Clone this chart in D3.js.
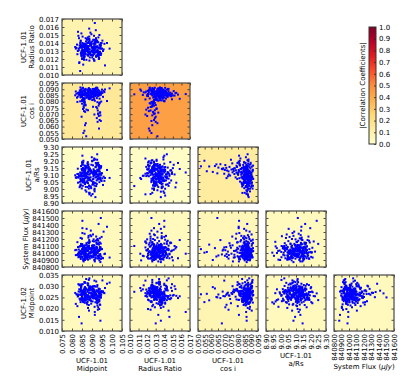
<!DOCTYPE html>
<html>
<head>
<meta charset="utf-8">
<script src="https://cdn.jsdelivr.net/npm/d3@7"></script>
<style>
body { margin: 0; background: #fff; }
text { font-family: "DejaVu Sans", sans-serif; font-size: 7px; fill: #000; }
</style>
</head>
<body>
<div id="chart"></div>
<script>
// MCMC samples (first 205 = main cluster, last 45 = low cos i tail)
var midpoint1 = [
0.0852,0.0918,0.0883,0.0907,0.0845,0.0894,0.0858,0.0912,0.0876,0.0931,
0.0866,0.0889,0.0849,0.0920,0.0881,0.0935,0.0843,0.0898,0.0870,0.0909,
0.0853,0.0886,0.0834,0.0913,0.0860,0.0941,0.0879,0.0905,0.0864,0.0892,
0.0851,0.0898,0.0874,0.0917,0.0829,0.0887,0.0862,0.0910,0.0844,0.0946,
0.0885,0.0914,0.0873,0.0901,0.0841,0.0921,0.0877,0.0937,0.0848,0.0891,
0.0867,0.0926,0.0836,0.0906,0.0880,0.0952,0.0863,0.0896,0.0846,0.0899,
0.0858,0.0932,0.0822,0.0913,0.0884,0.0923,0.0850,0.0958,0.0888,0.0908,
0.0842,0.0919,0.0865,0.0938,0.0878,0.0904,0.0876,0.0893,0.0838,0.0914,
0.0860,0.0944,0.0882,0.0910,0.0832,0.0928,0.0856,0.0896,0.0871,0.0920,
0.0844,0.0933,0.0887,0.0907,0.0851,0.0965,0.0875,0.0917,0.0827,0.0902,
0.0866,0.0890,0.0847,0.0912,0.0855,0.0948,0.0881,0.0921,0.0868,0.0905,
0.0852,0.0936,0.0878,0.0895,0.0845,0.0926,0.0816,0.0909,0.0886,0.0942,
0.0854,0.0918,0.0837,0.0900,0.0864,0.0934,0.0879,0.0913,0.0872,0.0975,
0.0846,0.0923,0.0889,0.0906,0.0833,0.0939,0.0863,0.0897,0.0849,0.0884,
0.0857,0.0929,0.0843,0.0911,0.0880,0.0950,0.0853,0.0892,0.0825,0.0903,
0.0867,0.0931,0.0885,0.0914,0.0860,0.0945,0.0839,0.0908,0.0877,0.0924,
0.0874,0.0988,0.0851,0.0917,0.0844,0.0894,0.0862,0.0901,0.0830,0.0927,
0.0856,0.0912,0.0869,0.0940,0.0883,0.0906,0.0859,0.0922,0.0835,0.0955,
0.0865,0.0891,0.0852,0.0932,0.0841,0.0898,0.0877,0.0920,0.0886,0.0943,
0.0819,0.0910,0.0863,0.0926,0.0850,0.0962,0.0882,0.0913,0.0871,0.0904,
0.0854,0.0937,0.0888,0.0918,0.0885,
0.0858,0.0931,0.0863,0.0938,0.0855,0.0927,0.0866,0.0935,0.0861,0.0942,
0.0852,0.0929,0.0869,0.0936,0.0859,0.0924,0.0864,0.0940,0.0857,0.0933,
0.0872,0.0946,0.0848,0.0921,0.0865,0.0937,0.0860,0.0930,0.0854,0.0944,
0.0867,0.0926,0.0862,0.0939,0.0880,0.0934,0.0856,0.0905,0.0871,0.0941,
0.0850,0.0928,0.0868,0.0912,0.0863];

var radiusRatio = [
0.0136,0.0129,0.0141,0.0133,0.0127,0.0138,0.0131,0.0144,0.0135,0.0124,
0.0139,0.0132,0.0128,0.0146,0.0134,0.0121,0.0137,0.0130,0.0142,0.0126,
0.0135,0.0148,0.0131,0.0139,0.0123,0.0134,0.0140,0.0128,0.0136,0.0153,
0.0132,0.0125,0.0137,0.0143,0.0130,0.0118,0.0135,0.0139,0.0127,0.0133,
0.0145,0.0131,0.0136,0.0122,0.0140,0.0129,0.0134,0.0150,0.0126,0.0138,
0.0132,0.0141,0.0115,0.0135,0.0128,0.0143,0.0133,0.0137,0.0124,0.0139,
0.0130,0.0147,0.0134,0.0127,0.0136,0.0142,0.0120,0.0132,0.0140,0.0129,
0.0135,0.0156,0.0131,0.0138,0.0125,0.0134,0.0144,0.0128,0.0137,0.0133,
0.0119,0.0140,0.0132,0.0136,0.0149,0.0127,0.0135,0.0141,0.0130,0.0123,
0.0138,0.0134,0.0145,0.0129,0.0136,0.0112,0.0133,0.0139,0.0126,0.0142,
0.0131,0.0137,0.0152,0.0128,0.0135,0.0140,0.0124,0.0134,0.0146,0.0130,
0.0137,0.0121,0.0133,0.0139,0.0127,0.0143,0.0135,0.0131,0.0158,0.0136,
0.0129,0.0141,0.0116,0.0134,0.0138,0.0125,0.0147,0.0132,0.0136,0.0140,
0.0128,0.0135,0.0122,0.0144,0.0133,0.0137,0.0130,0.0151,0.0134,0.0126,
0.0139,0.0131,0.0142,0.0118,0.0136,0.0133,0.0148,0.0129,0.0138,0.0124,
0.0135,0.0141,0.0132,0.0165,0.0127,0.0137,0.0134,0.0120,0.0140,0.0130,
0.0145,0.0133,0.0128,0.0136,0.0143,0.0125,0.0139,0.0131,0.0154,0.0135,
0.0113,0.0134,0.0138,0.0129,0.0142,0.0132,0.0136,0.0123,0.0146,0.0130,
0.0137,0.0127,0.0140,0.0134,0.0105,0.0135,0.0131,0.0144,0.0126,0.0138,
0.0133,0.0149,0.0128,0.0136,0.0121,0.0139,0.0132,0.0141,0.0134,0.0130,
0.0137,0.0125,0.0143,0.0135,0.0129,
0.0126,0.0129,0.0123,0.0128,0.0131,0.0125,0.0127,0.0122,0.0130,0.0126,
0.0128,0.0124,0.0132,0.0127,0.0121,0.0129,0.0126,0.0133,0.0125,0.0128,
0.0119,0.0127,0.0130,0.0124,0.0126,0.0129,0.0122,0.0128,0.0135,0.0125,
0.0127,0.0131,0.0123,0.0126,0.0129,0.0120,0.0128,0.0125,0.0132,0.0127,
0.0124,0.0130,0.0126,0.0118,0.0128];

var cosI = [
0.0868,0.0845,0.0879,0.0852,0.0873,0.0831,0.0886,0.0860,0.0848,0.0895,
0.0866,0.0820,0.0877,0.0855,0.0899,0.0862,0.0838,0.0882,0.0851,0.0871,
0.0905,0.0843,0.0864,0.0890,0.0826,0.0875,0.0857,0.0902,0.0849,0.0869,
0.0812,0.0881,0.0858,0.0896,0.0841,0.0874,0.0853,0.0885,0.0834,0.0867,
0.0903,0.0861,0.0846,0.0878,0.0803,0.0866,0.0893,0.0850,0.0876,0.0828,
0.0863,0.0911,0.0854,0.0883,0.0839,0.0870,0.0888,0.0847,0.0897,0.0859,
0.0815,0.0872,0.0864,0.0904,0.0842,0.0880,0.0852,0.0887,0.0833,0.0868,
0.0914,0.0857,0.0876,0.0824,0.0891,0.0862,0.0848,0.0900,0.0871,0.0807,
0.0882,0.0855,0.0894,0.0840,0.0865,0.0886,0.0821,0.0875,0.0860,0.0908,
0.0850,0.0869,0.0884,0.0836,0.0863,0.0898,0.0844,0.0879,0.0798,0.0867,
0.0856,0.0892,0.0849,0.0874,0.0830,0.0881,0.0862,0.0906,0.0853,0.0866,
0.0810,0.0887,0.0858,0.0841,0.0896,0.0872,0.0851,0.0878,0.0823,0.0865,
0.0912,0.0854,0.0875,0.0835,0.0889,0.0861,0.0847,0.0901,0.0868,0.0805,
0.0883,0.0857,0.0893,0.0838,0.0870,0.0863,0.0827,0.0885,0.0852,0.0909,
0.0866,0.0844,0.0877,0.0818,0.0873,0.0897,0.0855,0.0874,0.0832,0.0864,
0.0903,0.0850,0.0884,0.0861,0.0794,0.0869,0.0891,0.0846,0.0876,0.0829,
0.0867,0.0907,0.0856,0.0880,0.0842,0.0862,0.0895,0.0813,0.0871,0.0858,
0.0888,0.0848,0.0899,0.0867,0.0825,0.0878,0.0853,0.0913,0.0864,0.0839,
0.0874,0.0892,0.0808,0.0868,0.0859,0.0885,0.0834,0.0901,0.0851,0.0870,
0.0882,0.0819,0.0863,0.0906,0.0845,0.0877,0.0855,0.0890,0.0831,0.0866,
0.0910,0.0860,0.0849,0.0886,0.0837,
0.0762,0.0705,0.0788,0.0653,0.0741,0.0796,0.0718,0.0584,0.0773,0.0690,
0.0805,0.0729,0.0627,0.0782,0.0751,0.0668,0.0797,0.0712,0.0548,0.0768,
0.0736,0.0801,0.0679,0.0757,0.0611,0.0789,0.0724,0.0702,0.0812,0.0645,
0.0776,0.0747,0.0566,0.0793,0.0731,0.0685,0.0808,0.0759,0.0522,0.0714,
0.0784,0.0638,0.0770,0.0697,0.0815];

var aRs = [
9.113,9.042,9.127,9.071,9.164,9.018,9.093,9.121,9.054,9.187,
9.078,9.142,9.004,9.105,9.062,9.171,9.033,9.116,9.085,9.206,
9.047,9.134,9.091,8.983,9.124,9.069,9.152,9.038,9.101,9.012,
9.178,9.058,9.109,9.082,9.145,8.962,9.096,9.131,9.027,9.163,
9.074,9.103,9.051,9.198,9.118,9.021,9.087,9.149,9.064,9.112,
8.991,9.138,9.094,9.043,9.172,9.076,9.123,9.006,9.099,9.227,
9.053,9.132,9.081,9.024,9.158,9.061,9.114,9.088,8.972,9.141,
9.072,9.186,9.035,9.102,9.119,9.049,9.153,9.084,9.013,9.129,
9.092,9.063,9.176,9.041,9.108,9.073,9.144,8.953,9.097,9.126,
9.059,9.161,9.022,9.089,9.133,9.079,9.052,9.211,9.107,9.031,
9.139,9.068,9.104,8.994,9.151,9.057,9.122,9.086,9.044,9.169,
9.077,9.111,9.014,9.128,9.065,9.248,9.098,9.048,9.143,9.083,
9.023,9.157,9.095,9.117,9.039,9.074,9.192,9.101,8.981,9.136,
9.056,9.109,9.147,9.034,9.081,9.125,9.046,9.173,9.093,9.003,
9.137,9.067,9.105,9.218,9.042,9.113,9.061,9.131,9.084,8.964,
9.159,9.091,9.025,9.118,9.072,9.154,9.051,9.097,9.181,9.036,
9.112,9.079,9.143,8.942,9.088,9.134,9.063,9.201,9.045,9.102,
9.071,9.122,9.015,9.148,9.083,9.107,9.053,9.167,9.094,9.029,
9.141,9.062,9.238,9.099,9.021,9.127,9.074,9.115,8.973,9.162,
9.082,9.119,9.043,9.089,9.189,9.058,9.138,9.002,9.111,9.069,
9.132,9.049,9.103,9.156,9.078,
9.142,9.171,9.118,9.153,9.096,9.186,9.132,9.161,9.107,9.148,
9.195,9.126,9.164,9.083,9.139,9.177,9.114,9.151,9.202,9.129,
9.158,9.101,9.144,9.183,9.122,9.166,9.091,9.136,9.173,9.112,
9.149,9.209,9.127,9.157,9.104,9.141,9.188,9.119,9.162,9.078,
9.134,9.176,9.146,9.109,9.168];

var systemFlux = [
841020,840965,841085,840940,841130,841005,840990,841060,840915,841175,
841040,840955,841100,840980,841035,840925,841215,841070,840995,841010,
840945,841145,841050,840905,841090,840970,841025,841265,840960,841065,
841000,840935,841115,841045,840985,841160,840920,841075,841030,840950,
841105,840975,841345,841015,840940,841080,841055,840895,841125,840990,
841035,841190,840960,841010,841095,840930,841060,841240,840980,841020,
840910,841140,841045,840965,841085,841005,840945,841305,841070,840995,
841030,840925,841110,841050,840975,841170,840955,841015,841090,840880,
841040,841135,840985,841065,840940,841200,841000,840960,841080,841025,
840915,841415,841055,840970,841120,840990,841035,840935,841155,841075,
841010,840950,841100,840900,841045,841230,840980,841060,840925,841020,
841285,840965,841085,841005,840945,841130,841040,840990,841185,840870,
841070,841015,840955,841105,841050,840930,841150,840975,841030,841375,
840995,841090,840920,841060,841010,841210,840960,841045,841115,840940,
841080,841000,840985,841165,840905,841055,841025,841255,840970,841095,
840950,841035,841140,840990,841075,840915,841015,841195,840965,841065,
841040,840935,841125,841005,840980,841320,841050,840945,841085,841020,
840895,841110,840975,841060,841245,840955,841030,841145,840990,840925,
841070,841010,841460,840960,841100,841045,840940,841175,841000,841080,
840970,841035,840910,841130,841055,840985,841220,841015,840950,841090,
841025,840930,841160,840995,841065,840880,841040,841275,840965,841105,
841010,840945,841120,840975,841050,841355,840920,841070,841030,840990,
841185,840955,841085,841005,840935,841140,841060,840980,841235,840900,
841045,841020,840960,841095,841500,840940,841075,841015,841150,840970,
841035,840915,841110,841055,840985,841205,840950,841030,841080,841000];

var midpoint2 = [
0.0271,0.0248,0.0289,0.0256,0.0302,0.0237,0.0265,0.0281,0.0219,0.0274,
0.0252,0.0296,0.0261,0.0243,0.0312,0.0268,0.0229,0.0284,0.0257,0.0276,
0.0241,0.0293,0.0263,0.0208,0.0279,0.0250,0.0305,0.0266,0.0235,0.0287,
0.0259,0.0272,0.0225,0.0298,0.0254,0.0269,0.0318,0.0246,0.0280,0.0262,
0.0191,0.0275,0.0251,0.0291,0.0239,0.0267,0.0283,0.0258,0.0308,0.0244,
0.0273,0.0227,0.0286,0.0260,0.0249,0.0326,0.0270,0.0233,0.0294,0.0255,
0.0278,0.0242,0.0264,0.0301,0.0216,0.0282,0.0253,0.0271,0.0238,0.0290,
0.0261,0.0247,0.0315,0.0268,0.0230,0.0277,0.0256,0.0297,0.0244,0.0172,
0.0285,0.0263,0.0240,0.0274,0.0309,0.0252,0.0269,0.0222,0.0288,0.0258,
0.0245,0.0280,0.0335,0.0265,0.0236,0.0292,0.0254,0.0273,0.0211,0.0283,
0.0260,0.0248,0.0300,0.0267,0.0231,0.0277,0.0257,0.0321,0.0243,0.0286,
0.0262,0.0198,0.0275,0.0251,0.0295,0.0238,0.0270,0.0283,0.0255,0.0146,
0.0279,0.0246,0.0304,0.0264,0.0226,0.0289,0.0259,0.0272,0.0241,0.0311,
0.0266,0.0234,0.0281,0.0253,0.0276,0.0218,0.0293,0.0261,0.0249,0.0328,
0.0268,0.0239,0.0285,0.0256,0.0203,0.0274,0.0247,0.0299,0.0263,0.0232,
0.0290,0.0258,0.0271,0.0185,0.0282,0.0250,0.0307,0.0266,0.0242,0.0278,
0.0255,0.0316,0.0262,0.0228,0.0287,0.0270,0.0245,0.0296,0.0257,0.0214,
0.0280,0.0265,0.0236,0.0273,0.0302,0.0252,0.0284,0.0260,0.0163,0.0277,
0.0244,0.0291,0.0268,0.0230,0.0275,0.0259,0.0313,0.0248,0.0286,0.0264,
0.0221,0.0279,0.0254,0.0298,0.0240,0.0269,0.0282,0.0257,0.0332,0.0246,
0.0272,0.0233,0.0293,0.0261,0.0250,0.0276,0.0206,0.0288,0.0263,0.0243,
0.0305,0.0267,0.0237,0.0281,0.0256,0.0274,0.0195,0.0290,0.0253,0.0270,
0.0247,0.0318,0.0262,0.0229,0.0285,0.0258,0.0278,0.0134,0.0265,0.0296,
0.0241,0.0271,0.0255,0.0309,0.0250,0.0283,0.0224,0.0266,0.0287,0.0259,
0.0276,0.0239,0.0300,0.0264,0.0217,0.0280,0.0252,0.0273,0.0325,0.0261];

// tick values for each parameter
var midpointTicks = [0.075, 0.080, 0.085, 0.090, 0.095, 0.100, 0.105];
var radiusTicks = [0.010, 0.011, 0.012, 0.013, 0.014, 0.015, 0.016, 0.017];
var cosITicks = [0.050, 0.055, 0.060, 0.065, 0.070, 0.075, 0.080, 0.085, 0.090, 0.095];
var aRsTicks = [8.90, 8.95, 9.00, 9.05, 9.10, 9.15, 9.20, 9.25, 9.30];
var fluxTicks = [840800, 840900, 841000, 841100, 841200, 841300, 841400, 841500, 841600];
var midpoint2Ticks = [0.010, 0.015, 0.020, 0.025, 0.030, 0.035];
var colorbarTicks = [0.0, 0.1, 0.2, 0.3, 0.4, 0.5, 0.6, 0.7, 0.8, 0.9, 1.0];

// |correlation| of each lower-triangle panel (row = y parameter, col = x parameter)
var corrRows = [
  [0.08],
  [0.15, 0.44],
  [0.02, 0.02, 0.13],
  [0.04, 0.04, 0.06, 0.04],
  [0.04, 0.05, 0.07, 0.04, 0.04]
];

var width = 415, height = 389;
var pw = 60, ph = 56;           // panel size
var x0 = 62, y0 = 19;            // first panel corner
var dx = 68, dy = 64;            // panel spacing

var params = [
  {label: ["UCF-1.01", "Midpoint"], values: midpoint1, ticks: midpointTicks, fmt: ".3f"},
  {label: ["UCF-1.01", "Radius Ratio"], values: radiusRatio, ticks: radiusTicks, fmt: ".3f"},
  {label: ["UCF-1.01", "cos i"], values: cosI, ticks: cosITicks, fmt: ".3f"},
  {label: ["UCF-1.01", "a/Rs"], values: aRs, ticks: aRsTicks, fmt: ".2f"},
  {label: ["System Flux"], flux: true, values: systemFlux, ticks: fluxTicks, fmt: "d"},
  {label: ["UCF-1.02", "Midpoint"], values: midpoint2, ticks: midpoint2Ticks, fmt: ".3f"}
];

var ylOrRd = ["#ffffcc", "#ffeda0", "#fed976", "#feb24c", "#fd8d3c", "#fc4e2a", "#e31a1c", "#bd0026", "#800026"];
var color = d3.scaleLinear().domain(d3.range(9).map(function(i) { return i / 8; })).range(ylOrRd);

var svg = d3.select("#chart").append("svg")
    .attr("width", width)
    .attr("height", height);

svg.append("rect").attr("width", width).attr("height", height).attr("fill", "#fff");

var defs = svg.append("defs");
defs.append("clipPath").attr("id", "panelClip")
    .append("rect").attr("width", pw).attr("height", ph);

function writeLabel(sel, p) {
  if (p.flux) {
    sel.text("System Flux (");
    sel.append("tspan").style("font-style", "italic").text("\u03bcJy");
    sel.append("tspan").text(")");
  } else {
    sel.text(p.label[p.label.length - 1]);
  }
}

for (var r = 0; r < 5; r++) {
  for (var c = 0; c <= r; c++) {
    var xp = params[c], yp = params[r + 1];
    var x = d3.scaleLinear().domain(d3.extent(xp.ticks)).range([0, pw]);
    var y = d3.scaleLinear().domain(d3.extent(yp.ticks)).range([ph, 0]);
    var g = svg.append("g").attr("transform", "translate(" + (x0 + c * dx) + "," + (y0 + r * dy) + ")");

    g.append("rect")
        .attr("width", pw).attr("height", ph)
        .attr("fill", color(corrRows[r][c]));

    g.append("g").attr("clip-path", "url(#panelClip)")
      .selectAll("rect")
      .data(d3.zip(xp.values, yp.values))
      .join("rect")
        .attr("x", function(d) { return x(d[0]) - 1; })
        .attr("y", function(d) { return y(d[1]) - 1; })
        .attr("width", 2).attr("height", 2)
        .attr("fill", "#0000ff");

    // inward ticks on all four sides
    var bottom = g.append("g").attr("transform", "translate(0," + ph + ")")
        .call(d3.axisBottom(x).tickValues(xp.ticks).tickSizeInner(-2.5).tickSizeOuter(0).tickPadding(3)
          .tickFormat(r === 4 ? d3.format(xp.fmt) : ""));
    g.append("g").call(d3.axisTop(x).tickValues(xp.ticks).tickSizeInner(-2.5).tickSizeOuter(0).tickFormat(""));
    var left = g.append("g")
        .call(d3.axisLeft(y).tickValues(yp.ticks).tickSizeInner(-2.5).tickSizeOuter(0).tickPadding(3)
          .tickFormat(c === 0 ? d3.format(yp.fmt) : ""));
    g.append("g").attr("transform", "translate(" + pw + ",0)")
        .call(d3.axisRight(y).tickValues(yp.ticks).tickSizeInner(-2.5).tickSizeOuter(0).tickFormat(""));
    g.selectAll(".domain").remove();
    g.selectAll(".tick line").attr("stroke", "#222").attr("stroke-width", 0.8);

    g.append("rect")
        .attr("width", pw).attr("height", ph)
        .attr("fill", "none").attr("stroke", "#555").attr("stroke-width", 1.3);

    // rotated x tick labels and x axis label on the bottom row
    if (r === 4) {
      var maxW = 0;
      bottom.selectAll(".tick text")
          .attr("transform", "rotate(-90)")
          .attr("x", -3).attr("y", 0).attr("dy", "0.35em")
          .style("text-anchor", "end")
          .each(function() { maxW = Math.max(maxW, this.getComputedTextLength()); });
      var base = ph + 3 + maxW + 3 + 5.5;
      xp.label.forEach(function(line, i) {
        var t = g.append("text").attr("x", pw / 2).attr("y", base + i * 8).style("text-anchor", "middle");
        if (i === xp.label.length - 1) writeLabel(t, xp); else t.text(line);
      });
    }

    // y axis label on the left column
    if (c === 0) {
      var maxH = 0;
      left.selectAll(".tick text").each(function() { maxH = Math.max(maxH, this.getComputedTextLength()); });
      var n = yp.label.length;
      yp.label.forEach(function(line, i) {
        var bx = -3 - maxH - 4.5 - (n - 1 - i) * 8;
        var t = g.append("text")
            .attr("transform", "translate(" + bx + "," + (ph / 2) + ") rotate(-90)")
            .style("text-anchor", "middle");
        if (i === n - 1) writeLabel(t, yp); else t.text(line);
      });
    }
  }
}

// colour bar
var cbX = 369, cbW = 7, cbTop = 27, cbBottom = 144;
var cy = d3.scaleLinear().domain([0, 1]).range([cbBottom, cbTop]);
var grad = defs.append("linearGradient").attr("id", "cbGrad")
    .attr("x1", 0).attr("y1", 1).attr("x2", 0).attr("y2", 0);
grad.selectAll("stop")
  .data(d3.range(9).map(function(i) { return i / 8; }))
  .join("stop")
    .attr("offset", function(d) { return d; })
    .attr("stop-color", function(d) { return color(d); });

svg.append("rect")
    .attr("x", cbX).attr("y", cbTop).attr("width", cbW).attr("height", cbBottom - cbTop)
    .attr("fill", "url(#cbGrad)");

var cbAxis = svg.append("g").attr("transform", "translate(" + (cbX + cbW) + ",0)")
    .call(d3.axisRight(cy).tickValues(colorbarTicks).tickSizeInner(-2).tickSizeOuter(0).tickPadding(3)
      .tickFormat(d3.format(".1f")));
cbAxis.select(".domain").remove();
cbAxis.selectAll(".tick line").attr("stroke", "#222").attr("stroke-width", 0.8);

svg.append("rect")
    .attr("x", cbX).attr("y", cbTop).attr("width", cbW).attr("height", cbBottom - cbTop)
    .attr("fill", "none").attr("stroke", "#333").attr("stroke-width", 1);

svg.append("text")
    .attr("transform", "translate(365," + ((cbTop + cbBottom) / 2) + ") rotate(-90)")
    .style("text-anchor", "middle")
    .text("|Correlation Coefficients|");
</script>
</body>
</html>
